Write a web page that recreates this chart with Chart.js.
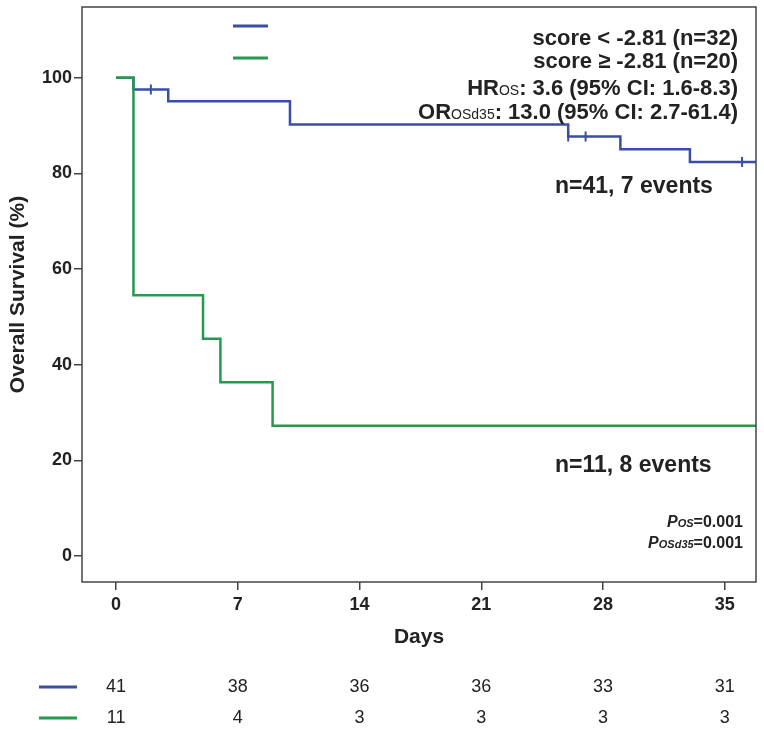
<!DOCTYPE html>
<html>
<head>
<meta charset="utf-8">
<script src="https://cdn.jsdelivr.net/npm/chart.js@4.4.1/dist/chart.umd.min.js"></script>
<style>
  body { margin: 0; background: #fff; }
  #wrap { width: 764px; height: 730px; }
</style>
</head>
<body>
<div id="wrap"><canvas id="km" width="764" height="730"></canvas></div>
<script>
// survival curves (days, % survival)
const blueDays = [0, 1, 3, 10, 26, 29, 33, 36.8];
const blueSurv = [100, 97.56, 95.12, 90.24, 87.73, 85.07, 82.41, 82.41];
const blueCensorDays = [2, 26, 27, 36];
const blueCensorSurv = [97.56, 87.73, 87.73, 82.41];

const greenDays = [0, 1, 5, 6, 9, 36.8];
const greenSurv = [100, 54.55, 45.45, 36.36, 27.27, 27.27];

// axes
const xTicks = [0, 7, 14, 21, 28, 35];
const yTicks = [0, 20, 40, 60, 80, 100];

// numbers at risk
const riskBlue = [41, 38, 36, 36, 33, 31];
const riskGreen = [11, 4, 3, 3, 3, 3];

const legendLabels = ['score < -2.81 (n=32)', 'score \u2265 -2.81 (n=20)'];

const BLUE = '#3a4ea7';
const GREEN = '#259a4e';
const FONT = '"Liberation Sans", Arial, sans-serif';

function toXY(xs, ys) {
    return xs.map((x, i) => ({ x: x, y: ys[i] }));
}

// draw text made of several pieces, right aligned at rx
function drawRich(ctx, parts, rx, y) {
    let total = 0;
    parts.forEach(p => { ctx.font = p.font; total += ctx.measureText(p.text).width; });
    let x = rx - total;
    ctx.textAlign = 'left';
    parts.forEach(p => {
        ctx.font = p.font;
        ctx.fillText(p.text, x, y + (p.dy || 0));
        x += ctx.measureText(p.text).width;
    });
}

const extras = {
    id: 'extras',
    afterDraw(chart) {
        const ctx = chart.ctx;
        const area = chart.chartArea;
        const xs = chart.scales.x;
        ctx.save();

        // frame
        ctx.strokeStyle = '#444';
        ctx.lineWidth = 1.5;
        ctx.strokeRect(area.left, area.top, area.right - area.left, area.bottom - area.top);

        // legend
        ctx.lineWidth = 3;
        ctx.strokeStyle = BLUE;
        ctx.beginPath(); ctx.moveTo(233, 26); ctx.lineTo(268, 26); ctx.stroke();
        ctx.strokeStyle = GREEN;
        ctx.beginPath(); ctx.moveTo(233, 58); ctx.lineTo(268, 58); ctx.stroke();

        ctx.fillStyle = '#222';
        ctx.textBaseline = 'middle';
        const big = 'bold 22px ' + FONT;
        const sub = '14px ' + FONT;
        drawRich(ctx, [{ text: legendLabels[0], font: big }], 738, 39);
        drawRich(ctx, [{ text: legendLabels[1], font: big }], 738, 62);
        drawRich(ctx, [
            { text: 'HR', font: big },
            { text: 'OS', font: sub, dy: 2 },
            { text: ': 3.6 (95% CI: 1.6-8.3)', font: big }
        ], 738, 89);
        drawRich(ctx, [
            { text: 'OR', font: big },
            { text: 'OSd35', font: sub, dy: 2 },
            { text: ': 13.0 (95% CI: 2.7-61.4)', font: big }
        ], 738, 113);

        // curve annotations
        ctx.font = 'bold 23px ' + FONT;
        ctx.textAlign = 'left';
        ctx.fillText('n=41, 7 events', 555, 187);
        ctx.fillText('n=11, 8 events', 555, 466);

        // p values
        const pf = 'italic bold 16px ' + FONT;
        const ps = 'italic bold 11px ' + FONT;
        const pv = 'bold 16px ' + FONT;
        drawRich(ctx, [
            { text: 'P', font: pf },
            { text: 'OS', font: ps, dy: 1 },
            { text: '=0.001', font: pv }
        ], 743, 523);
        drawRich(ctx, [
            { text: 'P', font: pf },
            { text: 'OSd35', font: ps, dy: 1 },
            { text: '=0.001', font: pv }
        ], 743, 544);

        // numbers at risk
        ctx.lineWidth = 3;
        ctx.strokeStyle = BLUE;
        ctx.beginPath(); ctx.moveTo(39, 687); ctx.lineTo(77, 687); ctx.stroke();
        ctx.strokeStyle = GREEN;
        ctx.beginPath(); ctx.moveTo(39, 718); ctx.lineTo(77, 718); ctx.stroke();

        ctx.font = '18px ' + FONT;
        ctx.textAlign = 'center';
        xTicks.forEach((d, i) => {
            const px = xs.getPixelForValue(d);
            ctx.fillText(String(riskBlue[i]), px, 687);
            ctx.fillText(String(riskGreen[i]), px, 718);
        });
        ctx.restore();
    }
};

const kmChart = new Chart(document.getElementById('km'), {
    type: 'line',
    data: {
        datasets: [
            {
                label: 'censored',
                data: toXY(blueCensorDays, blueCensorSurv),
                showLine: false,
                pointStyle: 'line',
                rotation: 90,
                pointRadius: 5,
                borderColor: BLUE,
                borderWidth: 2,
                order: 0
            },
            {
                label: legendLabels[1],
                data: toXY(greenDays, greenSurv),
                stepped: true,
                borderColor: GREEN,
                borderWidth: 2.5,
                pointRadius: 0,
                fill: false,
                order: 1
            },
            {
                label: legendLabels[0],
                data: toXY(blueDays, blueSurv),
                stepped: true,
                borderColor: BLUE,
                borderWidth: 2.5,
                pointRadius: 0,
                fill: false,
                order: 2
            }
        ]
    },
    options: {
        responsive: false,
        animation: false,
        events: [],
        layout: { padding: { top: 5, right: 8, left: 0, bottom: 0 } },
        plugins: {
            legend: { display: false },
            tooltip: { enabled: false }
        },
        scales: {
            x: {
                type: 'linear',
                min: -1.96,
                max: 36.8,
                afterFit(scale) {
                    scale.height = 148;
                    scale.paddingLeft = 0;
                    scale.paddingRight = 0;
                },
                afterBuildTicks(scale) { scale.ticks = xTicks.map(v => ({ value: v })); },
                grid: { drawOnChartArea: false, drawTicks: true, tickLength: 8, color: '#444', lineWidth: 1.5 },
                border: { display: false },
                ticks: { color: '#222', font: { family: FONT, size: 18, weight: 'bold' }, padding: 4, maxRotation: 0 },
                title: { display: true, text: 'Days', color: '#222', font: { family: FONT, size: 21, weight: 'bold' }, padding: { bottom: 80 } }
            },
            y: {
                min: -5.4,
                max: 114.8,
                afterFit(scale) {
                    scale.width = 82;
                    scale.paddingTop = 0;
                    scale.paddingBottom = 0;
                },
                afterBuildTicks(scale) { scale.ticks = yTicks.map(v => ({ value: v })); },
                grid: { drawOnChartArea: false, drawTicks: true, tickLength: 8, color: '#444', lineWidth: 1.5 },
                border: { display: false },
                ticks: { color: '#222', font: { family: FONT, size: 18, weight: 'bold' }, padding: 2 },
                title: { display: true, text: 'Overall Survival (%)', color: '#222', font: { family: FONT, size: 21, weight: 'bold' }, padding: { top: 6 } }
            }
        }
    },
    plugins: [extras]
});
</script>
</body>
</html>
